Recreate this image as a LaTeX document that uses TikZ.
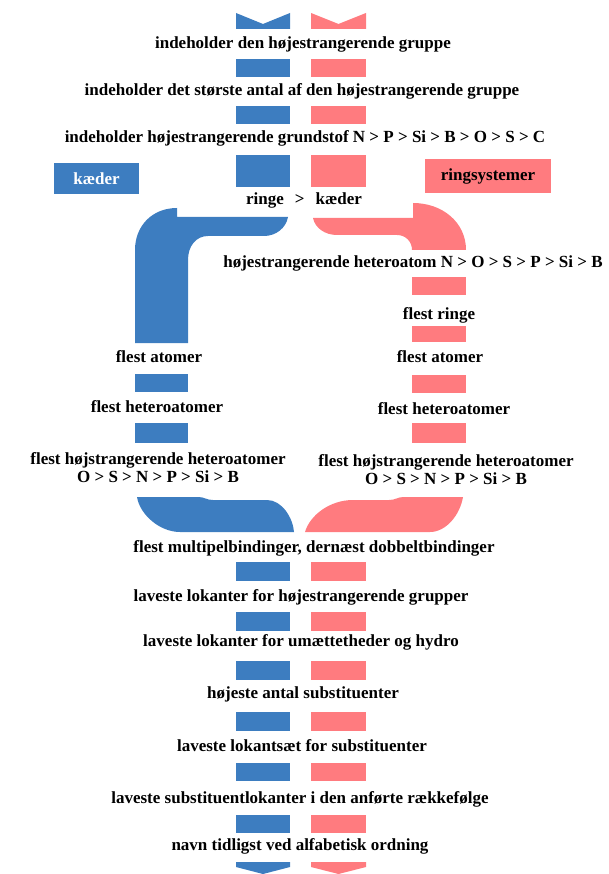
\documentclass[tikz,border=0pt]{standalone}
\usepackage{fontspec}
\setmainfont{Liberation Serif}
\definecolor{cblue}{RGB}{61,125,192}
\definecolor{cred}{RGB}{255,123,127}
\begin{document}
\begin{tikzpicture}[x=1pt,y=-1pt,
  lbl/.style={font=\bfseries\fontsize{17}{18}\selectfont, inner sep=0pt, text=black, align=center},
  bfill/.style={fill=cblue},
  rfill/.style={fill=cred}]
\useasboundingbox (0,0) rectangle (609,874);

% top chevrons
\fill[bfill] (236,13) -- (263,24) -- (290,13) -- (290,29) -- (236,29) -- cycle;
\fill[rfill] (311,13) -- (338.5,24) -- (366,13) -- (366,29) -- (311,29) -- cycle;

% upper centre boxes
\fill[bfill] (236,59) rectangle (290,77);
\fill[rfill] (311,59) rectangle (366,77);
\fill[bfill] (236,106) rectangle (290,124);
\fill[rfill] (311,106) rectangle (366,124);
\fill[bfill] (236,155) rectangle (290,187);
\fill[rfill] (311,155) rectangle (366,187);

% legend
\node[lbl, fill=cblue, text=white, minimum width=85pt, minimum height=31pt] (kaeder) at (96.5,178.5) {kæder};
\node[lbl, fill=cred, minimum width=126pt, minimum height=34pt] (ringsys) at (488,176) {ringsystemer};

% blue elbow to the left column
\fill[bfill] (288,217) -- (177,217) -- (177,208)
  .. controls (152,208) and (135,226) .. (135,250) -- (135,343) -- (188,343) -- (188,260)
  .. controls (188,246) and (196,236) .. (208,236) -- (264,236)
  .. controls (276,236) and (286,228) .. (288,217) -- cycle;

% red elbow to the right column
\fill[rfill] (313,218) -- (413,218) -- (413,203)
  .. controls (442,203) and (466,222) .. (466,250) -- (412,250)
  .. controls (412,242) and (406,235) .. (397,235) -- (337,235)
  .. controls (325,235) and (315,228) .. (313,218) -- cycle;

% left column boxes
\fill[bfill] (135,374) rectangle (188,392);
\fill[bfill] (135,423) rectangle (188,443);

% right column boxes
\fill[rfill] (412,277) rectangle (466,295);
\fill[rfill] (412,326) rectangle (466,342);
\fill[rfill] (412,375) rectangle (466,393);
\fill[rfill] (412,423) rectangle (466,443);

% merging shapes
\fill[bfill] (137,497) -- (198,497) .. controls (205,497) and (206,500) .. (213,500) -- (267,500)
  .. controls (282,500) and (293,518) .. (294,532) -- (180,532)
  .. controls (160,532) and (140,515) .. (137,497) -- cycle;
\fill[rfill] (463,497) -- (404,497) .. controls (397,497) and (396,500) .. (389,500) -- (353,500)
  .. controls (330,500) and (310,515) .. (305,532) -- (430,532)
  .. controls (446,532) and (460,515) .. (463,497) -- cycle;

% lower centre boxes
\foreach \ya/\yb in {562/581, 612/631, 661/680, 712/731, 763/781, 815/833} {
  \fill[bfill] (236,\ya) rectangle (290,\yb);
  \fill[rfill] (311,\ya) rectangle (366,\yb);
}

% bottom chevrons
\fill[bfill] (236,862) -- (290,862) -- (290,867) -- (263,874) -- (236,867) -- cycle;
\fill[rfill] (311,862) -- (366,862) -- (366,867) -- (338.5,874) -- (311,867) -- cycle;

% texts
\node[lbl] (t1) at (303,44) {indeholder den højestrangerende gruppe};
\node[lbl] (t2) at (302,91) {indeholder det største antal af den højestrangerende gruppe};
\node[lbl] (t3) at (305,138) {indeholder højestrangerende grundstof N > P > Si > B > O > S > C};
\node[lbl] (rk) at (304,200) {ringe\hspace{11pt}>\hspace{11pt}kæder};
\node[lbl] (h1) at (413,263) {højestrangerende heteroatom N > O > S > P > Si > B};
\node[lbl] (r1) at (439,315) {flest ringe};
\node[lbl] (l1) at (159,357) {flest atomer};
\node[lbl] (r2) at (440,357) {flest atomer};
\node[lbl] (l2) at (157,407) {flest heteroatomer};
\node[lbl] (r3) at (444,409) {flest heteroatomer};
\node[lbl] (l3) at (158,468) {flest højstrangerende heteroatomer\\O > S > N > P > Si > B};
\node[lbl] (r4) at (446,470) {flest højstrangerende heteroatomer\\O > S > N > P > Si > B};
\node[lbl] (b1) at (314,548) {flest multipelbindinger, dernæst dobbeltbindinger};
\node[lbl] (b2) at (301,597) {laveste lokanter for højestrangerende grupper};
\node[lbl] (b3) at (301,642) {laveste lokanter for umættetheder og hydro};
\node[lbl] (b4) at (303,694) {højeste antal substituenter};
\node[lbl] (b5) at (302,746) {laveste lokantsæt for substituenter};
\node[lbl] (b6) at (300,799) {laveste substituentlokanter i den anførte rækkefølge};
\node[lbl] (b7) at (300,846) {navn tidligst ved alfabetisk ordning};
\end{tikzpicture}
\end{document}
